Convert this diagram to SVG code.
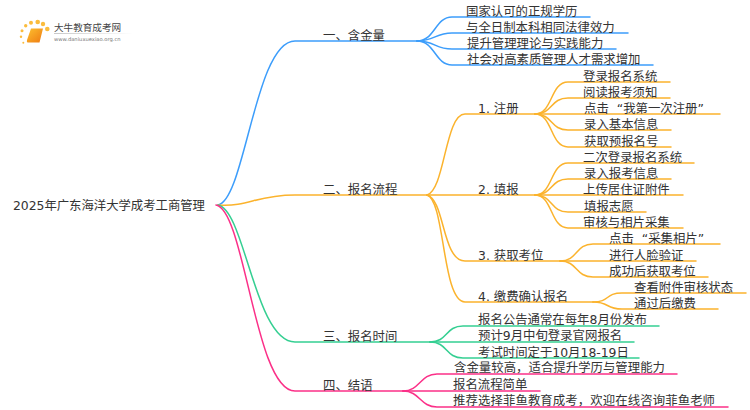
<svg xmlns="http://www.w3.org/2000/svg" width="750" height="410" viewBox="0 0 750 410">
<defs>
<linearGradient id="book" x1="0" y1="0" x2="1" y2="1"><stop offset="0" stop-color="#fdc02f"/><stop offset="1" stop-color="#ee7a12"/></linearGradient>
<linearGradient id="rule" x1="0" y1="0" x2="1" y2="0"><stop offset="0" stop-color="#c8c8c8"/><stop offset="1" stop-color="#ffffff"/></linearGradient>
</defs>
<style>
text{font-family:"DejaVu Sans","Noto Sans CJK SC",sans-serif;font-size:12.4px;fill:#333}
path{fill:none;stroke-width:1.5;stroke-linecap:round}
.b{stroke:#3c9dfb}.o{stroke:#fbb32d}.g{stroke:#35cf92}.p{stroke:#fb3088}
.d{fill:#fbbc3c}
</style>
<rect width="750" height="410" fill="#fff"/>
<g id="connectors">
<path class="b" d="M218 205C245 200 255 41 295 41H417"/>
<path class="b" d="M417 41C435 41 435 17 452 17H590"/>
<path class="b" d="M417 41C435 41 435 33 452 33H628"/>
<path class="b" d="M417 41C435 41 435 49 452 49H616"/>
<path class="b" d="M417 41C435 41 435 65 452 65H653"/>
<path class="o" d="M218 205C250 207 255 195 295 195H427"/>
<path class="o" d="M427 195C445 190 445 114 465 114H535"/>
<path class="o" d="M427 195H535"/>
<path class="o" d="M427 195C445 200 442 261 465 261H560"/>
<path class="o" d="M427 195C445 200 442 302 465 302H593"/>
<path class="o" d="M535 114C553 114 550 82 568 82H670"/>
<path class="o" d="M535 114C553 114 550 98 568 98H670"/>
<path class="o" d="M535 114H720"/>
<path class="o" d="M535 114C553 114 550 130 568 130H671"/>
<path class="o" d="M535 114C553 114 550 147 568 147H671"/>
<path class="o" d="M535 195C553 195 550 163 568 163H694"/>
<path class="o" d="M535 195C553 195 550 179 568 179H671"/>
<path class="o" d="M535 195H683"/>
<path class="o" d="M535 195C553 195 550 212 568 212H646"/>
<path class="o" d="M535 195C553 195 550 228 568 228H683"/>
<path class="o" d="M560 261C578 261 575 244 593 244H720"/>
<path class="o" d="M560 261H696"/>
<path class="o" d="M560 261C578 261 575 277 593 277H708"/>
<path class="o" d="M593 302C610 302 605 293 622 293H746"/>
<path class="o" d="M593 302C610 302 605 309 622 309H718"/>
<path class="g" d="M218 205C245 210 255 342 295 342H430"/>
<path class="g" d="M430 342C448 342 445 326 463 326H659"/>
<path class="g" d="M430 342H634"/>
<path class="g" d="M430 342C448 342 445 358 463 358H639"/>
<path class="p" d="M216 205C245 210 255 391 295 391H403"/>
<path class="p" d="M403 391C420 391 420 374 437 374H677"/>
<path class="p" d="M403 391H540"/>
<path class="p" d="M403 391C420 391 420 407 437 407H728"/>
</g>
<g id="logo">
<circle class="d" cx="37.700" cy="22" r="2.300"/><circle class="d" cx="31" cy="22.700" r="2"/><circle class="d" cx="25.700" cy="25.700" r="1.700"/><circle class="d" cx="22" cy="30.700" r="1.500"/><circle class="d" cx="21" cy="36.700" r="1.200"/><circle class="d" cx="23.300" cy="42.700" r="1"/><circle class="d" cx="43" cy="24" r="2.200"/><circle class="d" cx="47.300" cy="29" r="2.300"/>
<path d="M31 28.500H43L39.500 42.500H27.500Q26.500 42 27 40Z" style="fill:url(#book);stroke:none"/>
<rect x="54" y="33" width="79" height="1" fill="url(#rule)"/>
<text x="54" y="31" style="font-size:9.600px;fill:#444">大牛教育成考网</text>
<text x="54" y="40.500" style="font-size:5.200px;fill:#777">www.daniuxuexiao.org.cn</text>
</g>
<g id="root"><text x="13" y="209.500" textLength="192">2025年广东海洋大学成考工商管理</text></g>
<g id="n1"><text x="323" y="39.500">一、含金量</text></g>
<g id="n1-1"><text x="466" y="15.500">国家认可的正规学历</text></g>
<g id="n1-2"><text x="466" y="31.500">与全日制本科相同法律效力</text></g>
<g id="n1-3"><text x="467" y="48">提升管理理论与实践能力</text></g>
<g id="n1-4"><text x="467" y="64">社会对高素质管理人才需求增加</text></g>
<g id="n2"><text x="323" y="194">二、报名流程</text></g>
<g id="n2-1"><text x="478" y="113">1. 注册</text></g>
<g id="n2-1-1"><text x="583" y="80.500">登录报名系统</text></g>
<g id="n2-1-2"><text x="583" y="97">阅读报考须知</text></g>
<g id="n2-1-3"><text x="584" y="113">点击 <tspan dx="4">“我第一次注册”</tspan></text></g>
<g id="n2-1-4"><text x="584" y="129">录入基本信息</text></g>
<g id="n2-1-5"><text x="584" y="145.500">获取预报名号</text></g>
<g id="n2-2"><text x="478" y="194">2. 填报</text></g>
<g id="n2-2-1"><text x="583" y="162">二次登录报名系统</text></g>
<g id="n2-2-2"><text x="584" y="178">录入报考信息</text></g>
<g id="n2-2-3"><text x="583" y="194">上传居住证附件</text></g>
<g id="n2-2-4"><text x="584" y="210.500">填报志愿</text></g>
<g id="n2-2-5"><text x="583" y="227">审核与相片采集</text></g>
<g id="n2-3"><text x="478" y="260">3. 获取考位</text></g>
<g id="n2-3-1"><text x="609" y="243">点击 <tspan dx="4">“采集相片”</tspan></text></g>
<g id="n2-3-2"><text x="609" y="260">进行人脸验证</text></g>
<g id="n2-3-3"><text x="609" y="276">成功后获取考位</text></g>
<g id="n2-4"><text x="478" y="301">4. 缴费确认报名</text></g>
<g id="n2-4-1"><text x="634" y="292">查看附件审核状态</text></g>
<g id="n2-4-2"><text x="634" y="308">通过后缴费</text></g>
<g id="n3"><text x="323" y="341">三、报名时间</text></g>
<g id="n3-1"><text x="478" y="323.500">报名公告通常在每年8月份发布</text></g>
<g id="n3-2"><text x="478" y="340">预计9月中旬登录官网报名</text></g>
<g id="n3-3"><text x="478" y="356.500">考试时间定于10月18-19日</text></g>
<g id="n4"><text x="323" y="389.500">四、结语</text></g>
<g id="n4-1"><text x="454" y="372" textLength="211">含金量较高，适合提升学历与管理能力</text></g>
<g id="n4-2"><text x="453" y="389">报名流程简单</text></g>
<g id="n4-3"><text x="453" y="405" textLength="262">推荐选择菲鱼教育成考，欢迎在线咨询菲鱼老师</text></g>
</svg>
